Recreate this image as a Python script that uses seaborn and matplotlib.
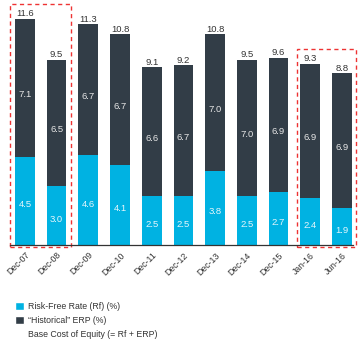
import matplotlib
matplotlib.use("Agg")
import matplotlib.pyplot as plt
import seaborn as sns
import pandas as pd
from matplotlib.patches import Patch, Rectangle

categories = ["Dec-07", "Dec-08", "Dec-09", "Dec-10", "Dec-11", "Dec-12",
              "Dec-13", "Dec-14", "Dec-15", "Jan-16", "Jun-16"]
rf = [4.5, 3.0, 4.6, 4.1, 2.5, 2.5, 3.8, 2.5, 2.7, 2.4, 1.9]
erp = [7.1, 6.5, 6.7, 6.7, 6.6, 6.7, 7.0, 7.0, 6.9, 6.9, 6.9]
total = [11.6, 9.5, 11.3, 10.8, 9.1, 9.2, 10.8, 9.5, 9.6, 9.3, 8.8]

CYAN = "#00B2E2"
DARK = "#323D47"

sns.set_style("white")
plt.rcParams['font.family'] = ['Liberation Sans', 'DejaVu Sans']

df = pd.DataFrame({"cat": categories, "rf": rf, "erp": erp, "total": total})

fig = plt.figure(figsize=(3.63, 3.44), dpi=100)
ax = fig.add_axes([10/363, 1-245/344, 343/363, 241/344])

sns.barplot(data=df, x="cat", y="total", color=DARK, width=0.62, ax=ax,
            saturation=1, edgecolor="none")
sns.barplot(data=df, x="cat", y="rf", color=CYAN, width=0.62, ax=ax,
            saturation=1, edgecolor="none")

ax.set_xlim(-0.47, 10.35)
ax.set_ylim(0, 12.35)
for s in ["top", "right", "left"]:
    ax.spines[s].set_visible(False)
ax.spines["bottom"].set_color("#333333")
ax.spines["bottom"].set_linewidth(0.9)
ax.set_yticks([])
ax.set_xlabel("")
ax.set_ylabel("")

ax.set_xticks(range(len(categories)))
ax.set_xticklabels(categories, rotation=45, ha="right", rotation_mode="anchor",
                   fontsize=6.3, color="#333333")
ax.tick_params(axis="x", which="major", length=0, pad=4)
ax.set_xticks([i + 0.5 for i in range(len(categories) - 1)], minor=True)
ax.tick_params(axis="x", which="minor", direction="in", length=3, width=0.9,
               color="#333333")

for i in range(len(categories)):
    ax.annotate(f"{total[i]:.1f}", (i, total[i]), xytext=(0, 0.5),
                textcoords="offset points", ha="center", va="bottom",
                fontsize=6.8, color="#333333")
    ax.text(i, rf[i] + erp[i] / 2 - 0.35, f"{erp[i]:.1f}", ha="center",
            va="center", fontsize=6.8, color="#E6E6E6")
    ax.text(i, rf[i] / 2 - 0.2, f"{rf[i]:.1f}", ha="center", va="center",
            fontsize=6.8, color="#E6F6FC")

# dashed highlight boxes
ax.add_patch(Rectangle((-0.47, -0.1), 1.92, 12.45, fill=False, ls=(0, (3, 2.5)),
                       ec="#EE3333", lw=1.0, clip_on=False))
ax.add_patch(Rectangle((8.58, -0.1), 1.86, 10.15, fill=False, ls=(0, (3, 2.5)),
                       ec="#EE3333", lw=1.0, clip_on=False))

handles = [Patch(facecolor=CYAN), Patch(facecolor=DARK),
           Patch(facecolor="none", edgecolor="none")]
labels = ["Risk-Free Rate (Rf) (%)", "\u201cHistorical\u201d ERP (%)",
          "Base Cost of Equity (= Rf + ERP)"]
fig.legend(handles, labels, loc="upper left", bbox_to_anchor=(11/363, 1-298/344),
           frameon=False, fontsize=6.3, handlelength=1.05, handleheight=1.05,
           handletextpad=0.55, labelspacing=0.62, borderaxespad=0,
           labelcolor="#333333")

fig.savefig("out.png", dpi=100)
